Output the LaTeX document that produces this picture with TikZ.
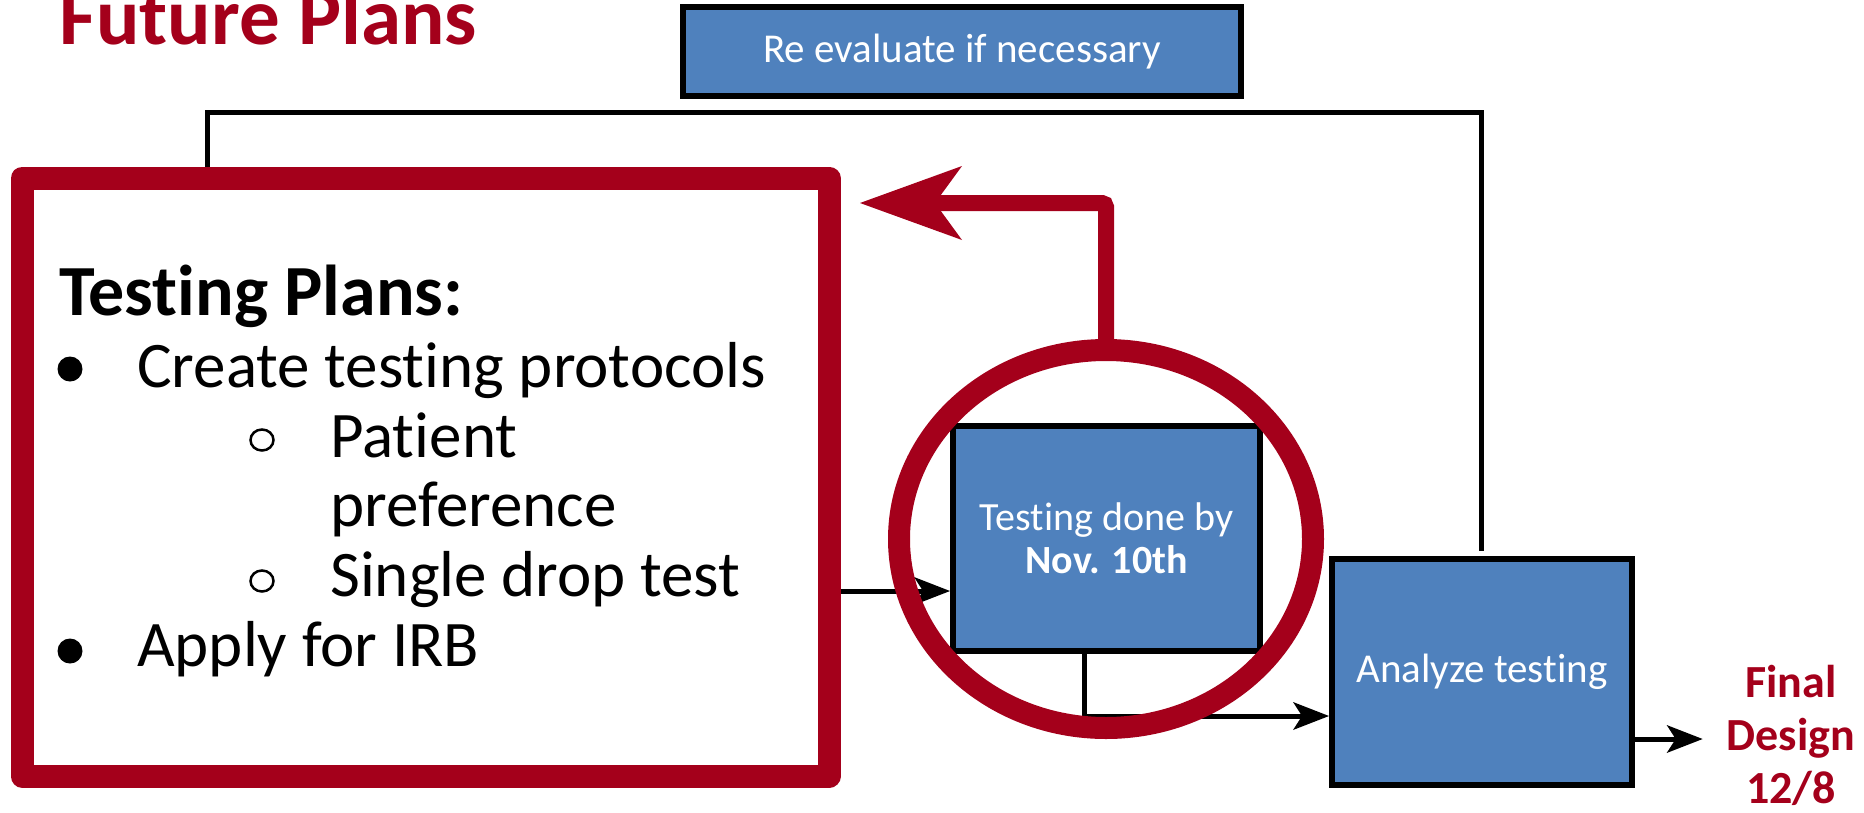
\documentclass[tikz,border=0pt]{standalone}
\usepackage{fontspec}
\setmainfont[Ligatures=NoCommon]{Carlito}
\usetikzlibrary{arrows.meta,shapes.geometric,backgrounds}
\definecolor{planred}{RGB}{164,0,27}
\definecolor{boxblue}{RGB}{79,129,189}

\begin{document}
\begin{tikzpicture}[x=1pt,y=-1pt,
  bluebox/.style={draw=black, line width=6pt, fill=boxblue, text=white,
    inner sep=0pt, align=center},
  link/.style={draw=black, line width=5pt},
  arrowlink/.style={link, -{Stealth[length=36pt,width=28pt,inset=9pt,line width=0pt]}},
  item/.style={anchor=base west, inner sep=0pt, font=\fontsize{65}{70}\selectfont},
  dot/.style={circle, fill=black, minimum size=25pt, inner sep=0pt},
  hollow/.style={ellipse, draw=black, line width=2.5pt, minimum width=23pt,
    minimum height=21pt, inner sep=0pt}]
\useasboundingbox (0,0) rectangle (1864,812);

% title
\node[anchor=base west, inner sep=0pt, text=planred,
  font=\fontsize{81}{90}\selectfont\bfseries] (title) at (59,44) {Future Plans};

% process boxes
\node[bluebox, minimum width=558pt, minimum height=89pt,
  font=\fontsize{41}{49}\selectfont] (reeval) at (962,51.5) {Re evaluate if necessary};
\node[bluebox, minimum width=307pt, minimum height=225pt,
  font=\fontsize{40}{43}\selectfont] (testing) at (1106.5,538.5)
  {Testing done by\\\textbf{Nov. 10th}};
\node[bluebox, minimum width=300pt, minimum height=226pt,
  font=\fontsize{41}{49}\selectfont] (analyze) at (1482,672) {Analyze testing};

% testing plans frame and list
\node[draw=planred, line width=23pt, line join=round, minimum width=807pt,
  minimum height=598pt, inner sep=0pt] (plans) at (425.5,477) {};
\node[anchor=base west, inner sep=0pt, font=\fontsize{72}{80}\selectfont\bfseries]
  (heading) at (59,315) {Testing Plans:};
\node[item] (itemA) at (137,387) {Create testing protocols};
\node[item] (itemB) at (330,457) {Patient};
\node[item] (itemBb) at (330,526) {preference};
\node[item] (itemC) at (330,596) {Single drop test};
\node[item] (itemD) at (137,666) {Apply for IRB};
\node[dot] (dotA) at (70,369) {};
\node[dot] (dotD) at (70,651) {};
\node[hollow] (ringB) at (262,440) {};
\node[hollow] (ringC) at (262,581) {};

% final milestone (base anchor sits on the last line)
\node[text=planred, font=\fontsize{46}{53}\selectfont\bfseries, align=center,
  anchor=base, inner xsep=24pt, inner ysep=0pt] (final) at (1791,803)
  {Final\\Design\\12/8};

% connectors behind the boxes
\begin{scope}[on background layer]
  \coordinate (loopL) at (207,112);
  \coordinate (loopR) at (1481,112);
  \draw[link, shorten >=5pt] (plans.north -| loopL) -- (loopL) -- (loopR)
    -- (loopR |- analyze.north);
  \coordinate (a1) at (840,591);
  \draw[arrowlink] (a1 -| plans.east) -- (a1 -| testing.west);
  \coordinate (a2) at (1084,716);
  \draw[arrowlink] (a2 |- testing.south) -- (a2) -- (a2 -| analyze.west);
  \coordinate (a3) at (1635,739);
  \draw[arrowlink] (a3 -| analyze.east) -- (a3 -| final.west);
\end{scope}

% highlight ring and return arrow
\node[draw=planred, line width=22pt, ellipse, minimum width=414pt,
  minimum height=378pt, inner sep=0pt] (circ) at (1106,539) {};
\coordinate (redtip) at (860,203);
\draw[draw=planred, line width=16pt, rounded corners=4pt,
  -{Stealth[length=102pt,width=74pt,inset=27pt,line width=0pt]}]
  ([yshift=-6pt]circ.north) |- (redtip);
\end{tikzpicture}
\end{document}
